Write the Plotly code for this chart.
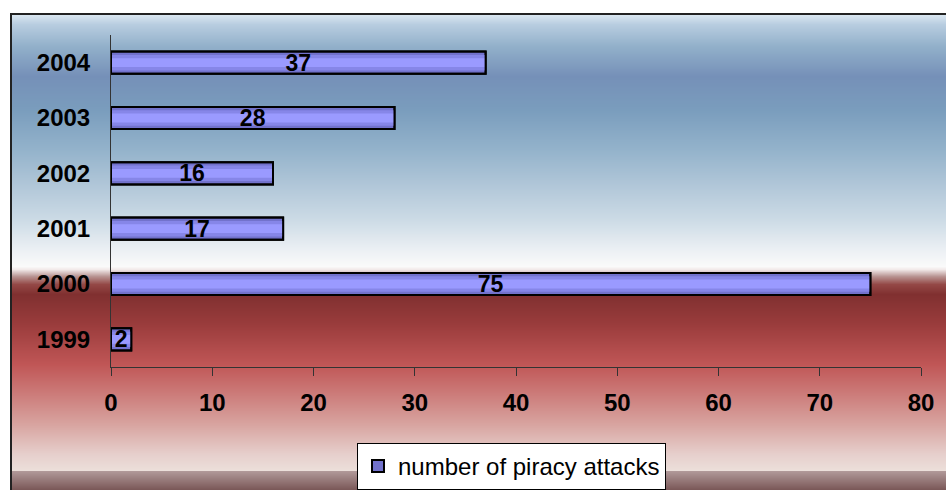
import base64
import struct
import zlib

import plotly.graph_objects as go

# Data
years = ["1999", "2000", "2001", "2002", "2003", "2004"]
attacks = [2, 75, 17, 16, 28, 37]
x_ticks = [0, 10, 20, 30, 40, 50, 60, 70, 80]
series_name = "number of piracy attacks"

W, H = 946, 490
ML, MR, MT, MB = 111, 25, 35, 123
PW, PH = W - ML - MR, H - MT - MB

FONT = "Arial, Liberation Sans, sans-serif"

# Vertical background gradient of the chart frame (pixel row -> colour)
stops = [
    (0, (0xdc, 0xe8, 0xf2)),
    (10, (0xb8, 0xcd, 0xe0)),
    (32, (0x92, 0xb0, 0xca)),
    (62, (0x75, 0x90, 0xb8)),
    (96, (0x7a, 0x9d, 0xbd)),
    (136, (0x94, 0xb3, 0xcb)),
    (170, (0xb0, 0xc6, 0xd8)),
    (204, (0xcb, 0xda, 0xe5)),
    (236, (0xec, 0xf0, 0xf4)),
    (252, (0xfa, 0xfa, 0xfa)),
    (255, (0xf2, 0xea, 0xea)),
    (262, (0xb8, 0x94, 0x92)),
    (270, (0x94, 0x48, 0x46)),
    (280, (0x80, 0x30, 0x30)),
    (310, (0x9a, 0x3c, 0x3c)),
    (350, (0xc0, 0x56, 0x56)),
    (380, (0xcc, 0x7c, 0x7a)),
    (410, (0xd8, 0xa4, 0xa0)),
    (440, (0xe6, 0xcf, 0xcc)),
    (456, (0xec, 0xdf, 0xda)),
    (457, (0xb0, 0x98, 0x98)),
    (476, (0x78, 0x55, 0x55)),
]


def row_colour(r):
    for (a, ca), (b, cb) in zip(stops, stops[1:]):
        if a <= r <= b:
            t = (r - a) / (b - a) if b > a else 0
            return tuple(round(ca[i] + (cb[i] - ca[i]) * t) for i in range(3))
    return stops[-1][1]


def make_png(width, height):
    raw = b""
    for r in range(height):
        c = bytes(row_colour(r))
        raw += b"\x00" + c * width

    def chunk(tag, data):
        body = tag + data
        return struct.pack(">I", len(data)) + body + struct.pack(">I", zlib.crc32(body) & 0xffffffff)

    ihdr = struct.pack(">IIBBBBB", width, height, 8, 2, 0, 0, 0)
    return (b"\x89PNG\r\n\x1a\n" + chunk(b"IHDR", ihdr)
            + chunk(b"IDAT", zlib.compress(raw, 9)) + chunk(b"IEND", b""))


FX0, FY0 = 11, 14  # frame top-left in pixels
grad_h = H - FY0
png = make_png(8, grad_h)
src = "data:image/png;base64," + base64.b64encode(png).decode()


def px_x(p):
    return (p - ML) / PW


def px_y(p):
    return (H - MB - p) / PH


fig = go.Figure()

# Bar body with cylinder-like shading (layered strips)
fig.add_trace(go.Bar(
    y=years, x=attacks, orientation="h", name=series_name, width=0.4,
    marker=dict(color="#7272cc", line=dict(color="#000000", width=2)),
    hoverinfo="skip",
))
fig.add_trace(go.Bar(
    y=years, x=attacks, orientation="h", width=0.28, showlegend=False,
    marker=dict(color="#8686e8", line=dict(width=0)), hoverinfo="skip",
))
fig.add_trace(go.Bar(
    y=years, x=attacks, orientation="h", width=0.16, showlegend=False,
    marker=dict(color="#9a9aff", line=dict(width=0)), hoverinfo="skip",
))
# Outline and value labels
fig.add_trace(go.Bar(
    y=years, x=attacks, orientation="h", width=0.4, showlegend=False,
    marker=dict(color="rgba(0,0,0,0)", line=dict(color="#000000", width=2)),
    text=[str(v) for v in attacks], textposition="inside", textangle=0,
    insidetextanchor="middle", constraintext="none",
    textfont=dict(family=FONT, size=23, color="#000000", weight="bold"),
))

fig.update_layout(
    width=W, height=H,
    margin=dict(l=ML, r=MR, t=MT, b=MB, pad=0, autoexpand=False),
    barmode="overlay",
    paper_bgcolor="#ffffff",
    plot_bgcolor="rgba(0,0,0,0)",
    font=dict(family=FONT, color="#000000"),
    showlegend=True,
    legend=dict(
        x=px_x(357), y=px_y(443), xanchor="left", yanchor="top",
        bgcolor="#ffffff", bordercolor="#000000", borderwidth=1,
        font=dict(family=FONT, size=24, color="#000000"),
        itemsizing="constant", tracegroupgap=0, itemwidth=30,
    ),
    images=[dict(
        source=src, xref="paper", yref="paper",
        x=px_x(FX0), y=px_y(FY0), sizex=(W - FX0) / PW, sizey=grad_h / PH,
        xanchor="left", yanchor="top", sizing="stretch", layer="below",
    )],
    shapes=[dict(
        type="rect", xref="paper", yref="paper",
        x0=px_x(FX0), y0=px_y(H + 5), x1=px_x(W + 5), y1=px_y(FY0),
        line=dict(color="#222222", width=2), fillcolor="rgba(0,0,0,0)",
        layer="above",
    )],
)

fig.update_xaxes(
    range=[0, 80], tickvals=x_ticks, ticktext=[str(v) for v in x_ticks],
    showgrid=False, zeroline=False,
    showline=True, linecolor="#333333", linewidth=1,
    ticks="outside", ticklen=8, tickcolor="#333333", tickwidth=1,
    ticklabelstandoff=6,
    tickfont=dict(family=FONT, size=24, color="#000000", weight="bold"),
    fixedrange=True,
)
fig.update_yaxes(
    type="category", categoryorder="array", categoryarray=years,
    showgrid=False, zeroline=False,
    showline=True, linecolor="#333333", linewidth=1,
    ticks="", ticklabelstandoff=15,
    tickfont=dict(family=FONT, size=24, color="#000000", weight="bold"),
    fixedrange=True,
)

fig.write_html("out.html", config={"displayModeBar": False})
